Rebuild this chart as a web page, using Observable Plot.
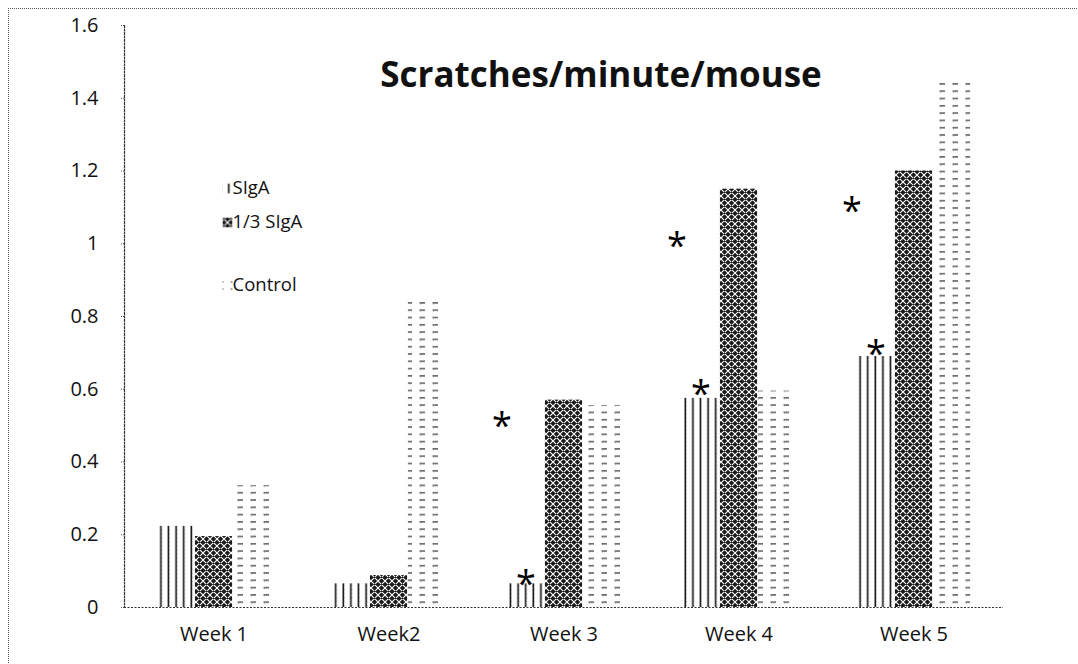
<!DOCTYPE html>
<html>
<head>
<meta charset="utf-8">
<script src="https://cdn.jsdelivr.net/npm/d3@7"></script>
<script src="https://cdn.jsdelivr.net/npm/@observablehq/plot@0.6"></script>
<style>
  html, body { margin: 0; padding: 0; background: #fff; overflow: hidden; }
  #wrap { position: relative; width: 1078px; height: 664px; }
  #border { position: absolute; left: 8px; top: 8px; width: 1100px; height: 700px;
            border-left: 1px dotted #555; border-top: 1px dotted #555; pointer-events: none; }
  #chart { position: absolute; left: 0; top: 0; }
</style>
</head>
<body>
<div id="wrap"><div id="chart"></div><div id="border"></div></div>
<svg width="0" height="0" style="position:absolute">
  <defs>
    <pattern id="pat-siga" patternUnits="userSpaceOnUse" width="7.6" height="4">
      <rect width="7.6" height="4" fill="#fff"/>
      <rect x="0.5" y="0" width="1.6" height="4" fill="#111"/>
      <rect x="2.1" y="1" width="0.6" height="1" fill="#999"/>
    </pattern>
    <pattern id="pat-third" patternUnits="userSpaceOnUse" width="7" height="7">
      <rect width="7" height="7" fill="#1a1a1a"/>
      <path d="M0,0L7,7M7,0L0,7M-1,6L1,8M6,-1L8,1M-1,1L1,-1M6,8L8,6" stroke="#fff" stroke-width="1.1"/>
      <circle cx="3.5" cy="3.5" r="0.9" fill="#1a1a1a"/>
    </pattern>
    <pattern id="pat-control" patternUnits="userSpaceOnUse" width="13" height="7.3">
      <rect width="13" height="7.3" fill="#fff"/>
      <rect x="3.5" y="3" width="5.5" height="1.2" fill="#333"/>
      <rect x="4" y="4.2" width="1" height="0.8" fill="#999"/>
    </pattern>
  </defs>
</svg>
<script>
const weeks = ["Week 1", "Week2", "Week 3", "Week 4", "Week 5"];
const series = ["SIgA", "1/3 SIgA", "Control"];
const sigaValues = [0.223, 0.065, 0.065, 0.575, 0.69];
const thirdValues = [0.195, 0.088, 0.57, 1.15, 1.2];
const controlValues = [0.335, 0.85, 0.555, 0.595, 1.445];
const yTicks = [0, 0.2, 0.4, 0.6, 0.8, 1, 1.2, 1.4, 1.6];
const title = "Scratches/minute/mouse";
// significance markers: week and y value of each asterisk
const starsUpper = [{week: "Week 3", y: 0.514}, {week: "Week 4", y: 1.01}, {week: "Week 5", y: 1.105}];
const starsLower = [{week: "Week 3", y: 0.08}, {week: "Week 4", y: 0.602}, {week: "Week 5", y: 0.712}];

const fills = {"SIgA": "url(#pat-siga)", "1/3 SIgA": "url(#pat-third)", "Control": "url(#pat-control)"};
const valuesBySeries = [sigaValues, thirdValues, controlValues];

const width = 1078, height = 664;
const marginLeft = 124, marginRight = 75, marginTop = 25, marginBottom = 57;
const band = (width - marginLeft - marginRight) / weeks.length;
const barW = 38;
const groupStart = (band - barW * 3) / 2;

const barMarks = series.map((s, i) => {
  const data = weeks.map((w, j) => ({week: w, value: valuesBySeries[i][j]}));
  return Plot.barY(data, {
    x: "week", y: "value", fill: fills[s],
    insetLeft: groupStart + barW * i,
    insetRight: band - groupStart - barW * (i + 1)
  });
});

const font = "'Open Sans', Lato, sans-serif";
const legendRows = [
  {label: "SIgA", dy: 163},
  {label: "1/3 SIgA", dy: 197},
  {label: "Control", dy: 260}
];
const legendMarks = legendRows.flatMap((r) => [
  Plot.dot([r.label], {frameAnchor: "top-left", dx: 103, dy: r.dy, symbol: "square", r: 5.5,
    fill: fills[r.label], stroke: "none"}),
  Plot.text([r.label], {frameAnchor: "top-left", dx: 108, dy: r.dy, text: d => d,
    textAnchor: "start", lineAnchor: "middle", fontSize: 18.5, fill: "#111", fontFamily: font})
]);

const chart = Plot.plot({
  width, height, marginLeft, marginRight, marginTop, marginBottom,
  style: {fontFamily: font, fontSize: "20px", color: "#111", background: "#fff"},
  x: {domain: weeks, padding: 0, label: null},
  y: {domain: [0, 1.6], label: null},
  marks: [
    ...barMarks,
    Plot.ruleY([0], {stroke: "#333", strokeDasharray: "2,1.5", strokeWidth: 1.2}),
    Plot.frame({anchor: "left", stroke: "#333", strokeDasharray: "2,1.5", strokeWidth: 1.2}),
    Plot.axisY({ticks: yTicks, tickFormat: d => String(+d.toFixed(1)), tickSize: 4, tickPadding: 22,
      fontSize: 20, stroke: "#555", strokeDasharray: "1,1", label: null}),
    Plot.axisX({tickSize: 0, tickPadding: 19, fontSize: 20, label: null}),
    Plot.text(starsUpper, {x: "week", y: "y", text: () => "*", dx: -62, dy: 6, fontSize: 36, fill: "#000"}),
    Plot.text(starsLower, {x: "week", y: "y", text: () => "*", dx: -38, dy: 6, fontSize: 36, fill: "#000"}),
    Plot.text([title], {frameAnchor: "top", dx: 37, dy: 50, lineAnchor: "middle", fontSize: 35,
      fontWeight: "bold", fill: "#111", fontFamily: font}),
    ...legendMarks
  ]
});
document.getElementById("chart").append(chart);
</script>
</body>
</html>
